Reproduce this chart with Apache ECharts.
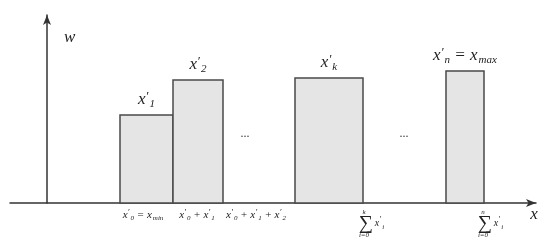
<!DOCTYPE html>
<html>
<head>
<meta charset="utf-8">
<script src="https://cdn.jsdelivr.net/npm/echarts@6/dist/echarts.min.js"></script>
<style>
  html, body { margin: 0; padding: 0; background: #fff; }
  #chart { width: 550px; height: 247px; }
</style>
</head>
<body>
<div id="chart"></div>
<script>
// bars: [left edge, right edge, height]
const barEdgesLeft = [73, 126, 248, 399]
const barEdgesRight = [126, 176, 316, 437]
const barHeights = [88, 123, 125, 132]
const barLabels = [
  '{v|x}{p|′}{s|1}',
  '{v|x}{p|′}{s|2}',
  '{v|x}{p|′}{s|k}',
  '{v|x}{p|′}{s|n}{v| = x}{s|max}'
]

// "..." gaps between bars
const gapX = [198, 357]
const gapY = [63, 63]

// labels under the x axis
const tickValues = [96, 150, 209, 324, 443]
const tickLabels = [
  '{v|x}{p|′}{s|0}{v| = x}{s|min}',
  '{v|x}{p|′}{s|0}{v| + x}{p|′}{s|1}',
  '{v|x}{p|′}{s|0}{v| + x}{p|′}{s|1}{v| + x}{p|′}{s|2}',
  '{a|k}{b| }\n{sig|∑}{t|x}{tp|′}{ts|i}\n{a|i=0}{b| }',
  '{a|n}{b| }\n{sig|∑}{t|x}{tp|′}{ts|i}\n{a|i=0}{b| }'
]

const X_MIN = -37
const X_MAX = 489
const Y_MAX = 188

const mathFont = 'Liberation Serif'
const axisColor = '#333'
const textColor = '#222'

const chart = echarts.init(document.getElementById('chart'), null, { renderer: 'canvas' })

const barData = barHeights.map((h, i) => [barEdgesLeft[i], barEdgesRight[i], h])
const gapData = gapX.map((x, i) => [x, gapY[i]])

const italic = (size, extra) => Object.assign({ fontFamily: mathFont, fontStyle: 'italic', fontSize: size, color: textColor }, extra || {})

const option = {
  animation: false,
  grid: { left: 10, right: 550 - 10 - (X_MAX - X_MIN), top: 247 - 44 - Y_MAX, bottom: 44 },
  xAxis: {
    type: 'value',
    min: X_MIN,
    max: X_MAX,
    name: 'x',
    nameLocation: 'end',
    nameGap: -2,
    nameTextStyle: italic(17, { align: 'center', verticalAlign: 'top', padding: [3, 0, 0, 0] }),
    axisLine: { show: true, symbol: ['none', 'arrow'], symbolSize: [6, 10], lineStyle: { color: axisColor, width: 1.5 } },
    axisTick: { show: false },
    splitLine: { show: false },
    axisLabel: {
      customValues: tickValues,
      margin: 5,
      color: textColor,
      fontFamily: mathFont,
      fontSize: 10,
      formatter: (val) => tickLabels[tickValues.indexOf(val)] || '',
      rich: {
        v: italic(11, { lineHeight: 14 }),
        p: italic(9, { width: 2, verticalAlign: 'top', lineHeight: 14 }),
        s: italic(7, { verticalAlign: 'bottom', lineHeight: 12, padding: [0, 0, 0, 1] }),
        a: italic(7, { width: 16, align: 'center', lineHeight: 8 }),
        b: { width: 14, fontSize: 7, lineHeight: 8 },
        sig: { width: 16, align: 'center', fontFamily: mathFont, fontSize: 20, lineHeight: 15, color: textColor },
        t: italic(10, { lineHeight: 15, padding: [0, 0, 0, 1] }),
        tp: italic(8, { width: 2, verticalAlign: 'top', lineHeight: 13 }),
        ts: italic(7, { verticalAlign: 'bottom', lineHeight: 11, padding: [0, 0, 0, 1] })
      }
    }
  },
  yAxis: {
    type: 'value',
    min: 0,
    max: Y_MAX,
    name: 'w',
    nameLocation: 'end',
    nameGap: -31,
    nameTextStyle: italic(17, { align: 'left', padding: [0, 0, 0, 17] }),
    axisLine: { show: true, onZero: true, symbol: ['none', 'arrow'], symbolSize: [6, 10], lineStyle: { color: axisColor, width: 1.5 } },
    axisTick: { show: false },
    axisLabel: { show: false },
    splitLine: { show: false }
  },
  series: [
    {
      type: 'custom',
      data: barData,
      encode: { x: [0, 1], y: 2 },
      renderItem: (params, api) => {
        const topLeft = api.coord([api.value(0), api.value(2)])
        const bottomRight = api.coord([api.value(1), 0])
        return {
          type: 'group',
          children: [
            {
              type: 'rect',
              shape: {
                x: topLeft[0],
                y: topLeft[1],
                width: bottomRight[0] - topLeft[0],
                height: bottomRight[1] - topLeft[1]
              },
              style: { fill: '#e5e5e5', stroke: '#4a4a4a', lineWidth: 1.5 }
            },
            {
              type: 'text',
              x: (topLeft[0] + bottomRight[0]) / 2,
              y: topLeft[1] - 5,
              style: {
                text: barLabels[params.dataIndex],
                align: 'center',
                verticalAlign: 'bottom',
                fill: textColor,
                rich: {
                  v: italic(17, { fill: textColor, lineHeight: 20 }),
                  p: italic(13, { fill: textColor, width: 3, verticalAlign: 'top', lineHeight: 20 }),
                  s: italic(11, { fill: textColor, verticalAlign: 'bottom', lineHeight: 16, padding: [0, 0, 0, 1] })
                }
              }
            }
          ]
        }
      }
    },
    {
      type: 'custom',
      data: gapData,
      encode: { x: 0, y: 1 },
      renderItem: (params, api) => {
        const p = api.coord([api.value(0), api.value(1)])
        return {
          type: 'text',
          x: p[0],
          y: p[1],
          style: { text: '...', align: 'center', verticalAlign: 'bottom', fontSize: 12, fontFamily: mathFont, fill: '#333' }
        }
      }
    }
  ]
}

chart.setOption(option)
</script>
</body>
</html>
